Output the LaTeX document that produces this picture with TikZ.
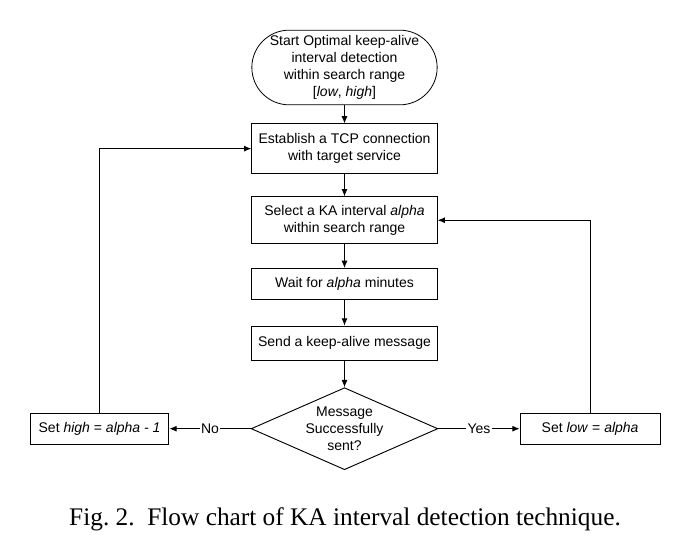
\documentclass[tikz,border=0pt]{standalone}
\usepackage{fontspec}
\setmainfont{Liberation Serif}
\setsansfont{Liberation Sans}
\usetikzlibrary{positioning, arrows.meta, shapes.geometric}

\begin{document}
\begin{tikzpicture}[x=0.75pt, y=-0.75pt, node distance=18pt and 61pt,
    every node/.style={font=\sffamily\fontsize{10.5}{12.7}\selectfont},
    term/.style={rectangle, rounded corners=28pt, draw, line width=0.6pt, minimum width=139pt, minimum height=56pt, align=center, inner sep=0pt},
    proc/.style={rectangle, draw, line width=0.7pt, minimum width=139pt, minimum height=24pt, align=center},
    decision/.style={diamond, draw, line width=0.7pt, aspect=2.28, minimum width=140pt, minimum height=61.5pt, align=center, inner sep=0pt},
    side/.style={rectangle, draw, line width=0.7pt, minimum width=104pt, minimum height=23pt, align=center},
    arrow/.style={-{Latex[length=5.5pt,width=4.5pt]}, line width=0.7pt}]

  \useasboundingbox (0,0) rectangle (693,560);

  \node[term] (start) at (344.5,67.5) {Start Optimal keep-alive\\interval detection\\within search range\\{[}\textit{low}, \textit{high}{]}};

  \node[proc, below=13.7pt of start, minimum height=37pt] (connect) {Establish a TCP connection\\with target service};
  \node[proc, below=17pt of connect, minimum height=35pt] (select) {Select a KA interval \textit{alpha}\\within search range};
  \node[proc, below=of select, minimum height=23pt] (wait) {Wait for \textit{alpha} minutes};
  \node[proc, below=19.5pt of wait, minimum height=25.5pt] (send) {Send a keep-alive message};
  \node[decision, below=20pt of send] (sent) {Message\\Successfully\\sent?};

  \node[side, left=of sent] (sethigh) {Set \textit{high} = \textit{alpha - 1}};
  \node[side, right=of sent, minimum width=105pt] (setlow) {Set \textit{low} = \textit{alpha}};

  \draw[arrow] (start) -- (connect);
  \draw[arrow] (connect) -- (select);
  \draw[arrow] (select) -- (wait);
  \draw[arrow] (wait) -- (send);
  \draw[arrow] (send) -- (sent);
  \draw[arrow] (sent) -- node[fill=white, inner sep=1pt] {No} (sethigh);
  \draw[arrow] (sent) -- node[fill=white, inner sep=1pt] {Yes} (setlow);
  \draw[arrow] (sethigh) |- (connect);
  \draw[arrow] (setlow) |- (select);

  \node[font=\rmfamily\fontsize{19}{23}\selectfont, anchor=base] (caption) at (345,525) {Fig.~2.\enspace Flow chart of KA interval detection technique.};
\end{tikzpicture}
\end{document}
